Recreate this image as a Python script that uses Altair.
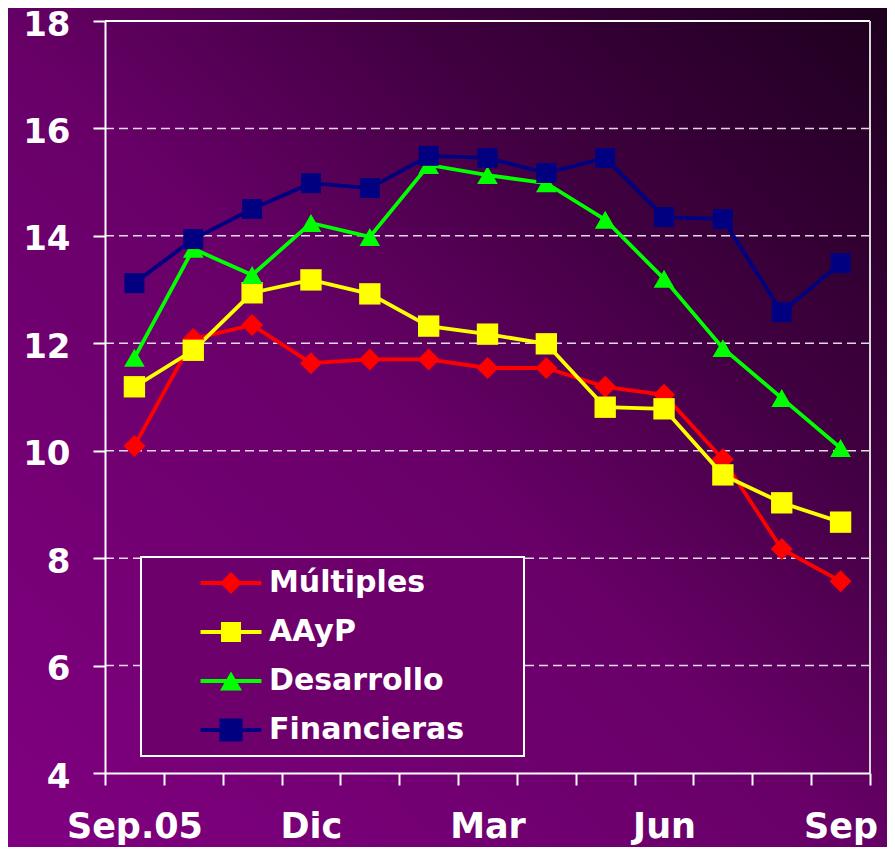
import altair as alt
import pandas as pd

months = ["Sep.05", "Oct", "Nov", "Dic", "Ene", "Feb", "Mar", "Abr", "May", "Jun", "Jul", "Ago", "Sep"]
shown_labels = ["Sep.05", "Dic", "Mar", "Jun", "Sep"]
series = ["Múltiples", "AAyP", "Desarrollo", "Financieras"]
multiples = [10.09, 12.08, 12.34, 11.63, 11.70, 11.70, 11.54, 11.54, 11.19, 11.04, 9.84, 8.17, 7.57]
aayp = [11.19, 11.87, 12.94, 13.18, 12.92, 12.32, 12.17, 11.99, 10.81, 10.78, 9.55, 9.03, 8.67]
desarrollo = [11.73, 13.76, 13.27, 14.24, 13.98, 15.32, 15.13, 14.98, 14.30, 13.20, 11.91, 10.98, 10.05]
financieras = [13.12, 13.94, 14.50, 14.98, 14.89, 15.49, 15.45, 15.17, 15.45, 14.35, 14.31, 12.58, 13.49]
y_ticks = [4, 6, 8, 10, 12, 14, 16, 18]
grid_values = [6, 8, 10, 12, 14, 16]
top_value = [18]

colors = ["#ff0000", "#ffff00", "#00ff00", "#000080"]
shapes = ["diamond", "square", "triangle-up", "square"]
sizes = [484, 400, 484, 529]

ext = "M-7,0Z M25.6,0Z "
legend_shapes = [
    ext + "M-2.77,-0.18L-0.82,-0.18L0,-1L0.82,-0.18L2.77,-0.18L2.77,0.18L0.82,0.18L0,1L-0.82,0.18L-2.77,0.18Z",
    ext + "M-2.77,-0.18L-0.91,-0.18L-0.91,-0.91L0.91,-0.91L0.91,-0.18L2.77,-0.18L2.77,0.18L0.91,0.18L0.91,0.91L-0.91,0.91L-0.91,0.18L-2.77,0.18Z",
    ext + "M-2.77,-0.18L-0.396,-0.18L0,-0.866L0.396,-0.18L2.77,-0.18L2.77,0.18L0.604,0.18L1,0.866L-1,0.866L-0.604,0.18L-2.77,0.18Z",
    ext + "M-2.77,-0.18L-1.05,-0.18L-1.05,-1.05L1.05,-1.05L1.05,-0.18L2.77,-0.18L2.77,0.18L1.05,0.18L1.05,1.05L-1.05,1.05L-1.05,0.18L-2.77,0.18Z",
]

rows = []
for name, vals in zip(series, [multiples, aayp, desarrollo, financieras]):
    for m, v in zip(months, vals):
        rows.append({"mes": m, "serie": name, "valor": v})
df = pd.DataFrame(rows)

W, H = 765, 752
PL, PT, PR, PB = 97, 13, 17, 74
FONT = "DejaVu Sans"

x_enc = alt.X(
    "mes:N",
    sort=months,
    scale=alt.Scale(type="band", paddingInner=0, paddingOuter=0),
    axis=alt.Axis(
        title=None, labelAngle=0, labelOverlap=False, tickBand="extent", zindex=2,
        labelExpr="indexof(%s, datum.value) >= 0 ? datum.label : ''" % str(shown_labels),
        domainColor="white", domainWidth=2, tickColor="white", tickWidth=2, tickSize=12,
        labelColor="white", labelFont=FONT, labelFontSize=35, labelFontWeight="bold",
        labelPadding=24, grid=False,
    ),
)
y_scale = alt.Scale(domain=[4, 18], nice=False, zero=False)
y_axis = alt.Axis(
    title=None, values=y_ticks, domainColor="white", domainWidth=2, zindex=2,
    tickColor="white", tickWidth=2, tickSize=12,
    labelColor="white", labelFont=FONT, labelFontSize=34, labelFontWeight="bold",
    labelPadding=23, labelOffset=4, grid=False,
)
y_enc = alt.Y("valor:Q", scale=y_scale, axis=y_axis)

bg = alt.Chart(alt.Data(values=[{"a": 1}])).mark_rect(
    fill=alt.LinearGradient(
        gradient="linear",
        stops=[
            alt.GradientStop(color="#800080", offset=0),
            alt.GradientStop(color="#680068", offset=0.48),
            alt.GradientStop(color="#400040", offset=0.72),
            alt.GradientStop(color="#1e001e", offset=1),
        ],
        x1=0, y1=1, x2=1, y2=0,
    )
).encode(
    x=alt.value(-PL), x2=alt.value(W + PR),
    y=alt.value(-PT), y2=alt.value(H + PB),
)

grid = alt.Chart(pd.DataFrame({"valor": grid_values})).mark_rule(
    color="white", opacity=0.85, strokeDash=[9, 5], strokeWidth=1.5
).encode(y=y_enc, x=alt.value(0), x2=alt.value(W))

top_border = alt.Chart(pd.DataFrame({"valor": top_value})).mark_rule(
    color="white", strokeWidth=2
).encode(y=y_enc, x=alt.value(0), x2=alt.value(W))

right_border = alt.Chart(alt.Data(values=[{"a": 1}])).mark_rule(
    color="#d8d8d8", strokeWidth=2
).encode(x=alt.value(W), y=alt.value(0), y2=alt.value(H))

color_scale = alt.Scale(domain=series, range=colors)

lines = alt.Chart(df).mark_line(strokeWidth=3.8).encode(
    x=x_enc, y=y_enc,
    color=alt.Color("serie:N", scale=color_scale, legend=None),
)

points = alt.Chart(df).mark_point(filled=True, opacity=1).encode(
    x=x_enc, y=y_enc,
    color=alt.Color("serie:N", scale=color_scale, legend=None),
    shape=alt.Shape("serie:N", scale=alt.Scale(domain=series, range=shapes), legend=None),
    size=alt.Size("serie:N", scale=alt.Scale(domain=series, range=sizes), legend=None),
)

leg = alt.Legend(
    title=None, orient="none", legendX=36, legendY=536,
    strokeColor="white", fillColor="#6e006c", padding=11,
    labelColor="white", labelFont=FONT, labelFontSize=30, labelFontWeight="bold",
    labelLimit=400,
    rowPadding=19, symbolOffset=64, labelOffset=23, symbolSize=484,
    symbolStrokeWidth=0, symbolOpacity=1,
)

legend_layer = alt.Chart(df).mark_point(filled=True, opacity=0, size=484).encode(
    x=x_enc, y=y_enc,
    color=alt.Color("serie:N", scale=alt.Scale(domain=series, range=colors), legend=leg),
    shape=alt.Shape("serie:N", scale=alt.Scale(domain=series, range=legend_shapes), legend=leg),
)

chart = alt.layer(bg, grid, top_border, right_border, lines, points, legend_layer).resolve_scale(
    color="independent", shape="independent"
).resolve_legend(color="independent", shape="independent").properties(
    width=W, height=H,
    autosize=alt.AutoSizeParams(type="none"),
    padding={"left": PL, "top": PT, "right": PR, "bottom": PB},
    background="#660066",
).configure_view(stroke=None).configure_legend(strokeWidth=2)

chart.save("out.html", embed_options={"renderer": "svg", "actions": False})
